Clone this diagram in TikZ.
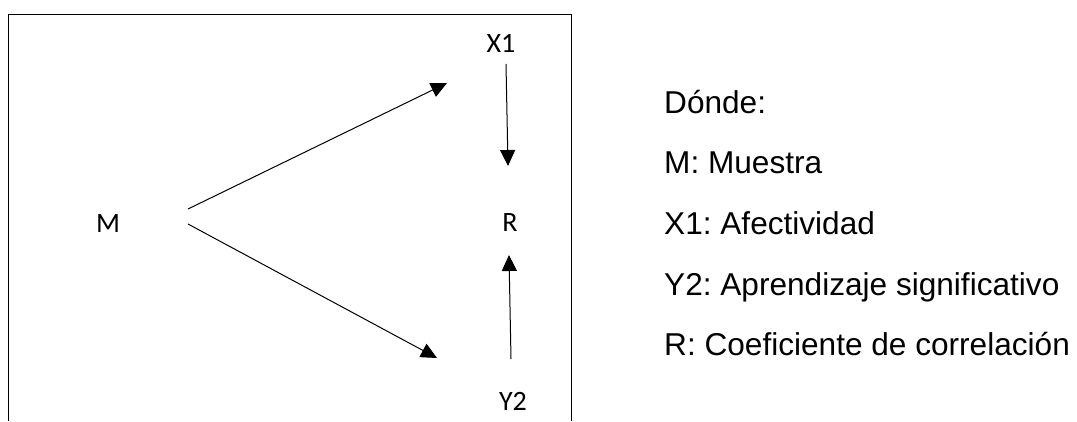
\documentclass[tikz,border=0pt]{standalone}
\usepackage{fontspec}
\setmainfont{Liberation Sans}
\newfontfamily\calib{Carlito}
\usetikzlibrary{arrows.meta}
\frenchspacing
\tikzset{
  lbl/.style={font=\calib\fontsize{28}{32}\selectfont, inner sep=0pt, anchor=base},
  leg/.style={font=\fontsize{31.6}{36}\selectfont, inner sep=0pt, anchor=base west},
  arr/.style={line width=1pt, -{Triangle[length=16pt,width=15pt]}},
}
\begin{document}
\begin{tikzpicture}[x=1pt,y=-1pt]
\useasboundingbox (0,0) rectangle (1077,421);
\fill[white] (0,0) rectangle (1077,421);
\draw[line width=1pt] (8.5,421) -- (8.5,14) -- (571,14) -- (571,421);
\node[lbl] (X1) at (501,52) {X1};
\node[lbl] (M) at (108,232) {M};
\node[lbl] (R) at (510,231) {R};
\node[lbl] (Y2) at (513,410) {Y2};
\coordinate (ma) at (188,209);
\coordinate (mb) at (188,224);
\coordinate (ta) at (447,83);
\coordinate (tb) at (437,358);
\coordinate (xs) at (506,64);
\coordinate (xe) at (508,166);
\coordinate (ys) at (511,359);
\coordinate (ye) at (509,255);
\draw[arr] (ma) -- (ta);
\draw[arr] (mb) -- (tb);
\draw[arr] (xs) -- (xe);
\draw[arr] (ys) -- (ye);
\node[leg] (d) at (664,113) {Dónde:};
\node[leg] (l1) at (664,173) {M: Muestra};
\node[leg] (l2) at (664,234) {X1: Afectividad};
\node[leg] (l3) at (664,295) {Y2: Aprendizaje significativo};
\node[leg] (l4) at (664,355) {R: Coeficiente de correlación};
\end{tikzpicture}
\end{document}
